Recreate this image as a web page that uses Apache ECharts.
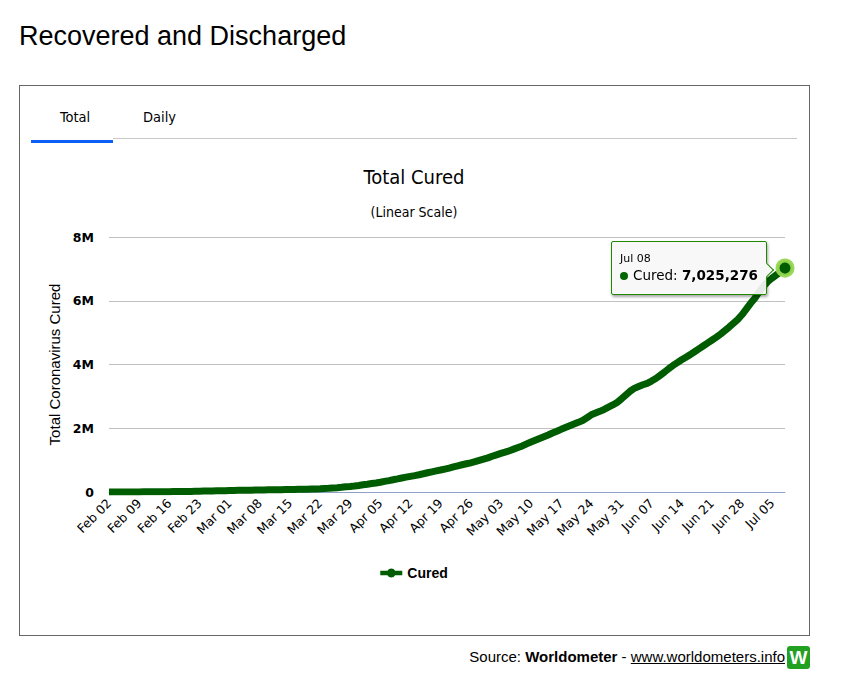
<!DOCTYPE html>
<html>
<head>
<meta charset="utf-8">
<script src="https://cdn.jsdelivr.net/npm/echarts@6/dist/echarts.min.js"></script>
<style>
  html, body { margin: 0; padding: 0; background: #fff; width: 843px; height: 686px; overflow: hidden; font-family: "Liberation Sans", Arial, sans-serif; }
  #pageTitle { position: absolute; left: 19px; top: 21px; font-size: 27px; color: #000; white-space: nowrap; }
  #box { position: absolute; left: 19px; top: 85px; width: 789px; height: 549px; border: 1px solid #666; }
  #chart { position: absolute; left: 20px; top: 86px; width: 788px; height: 548px; }
  .tab { position: absolute; top: 109px; font-size: 14.5px; color: #000; z-index: 2; font-family: "DejaVu Sans Condensed", "Liberation Sans", sans-serif; }
  #tabLine { position: absolute; left: 113px; top: 138px; width: 684px; height: 1px; background: #c8c8c8; z-index: 2; }
  #tabActive { position: absolute; left: 31px; top: 140px; width: 82px; height: 3px; background: #0d5ef5; z-index: 2; }
  #footer { position: absolute; right: 58px; top: 648px; font-size: 15px; color: #000; white-space: nowrap; }
  #footer a { color: #000; text-decoration: underline; }
  #wlogo { position: absolute; left: 787px; top: 646px; width: 23px; height: 23px; background: #22a022; border-radius: 3px; color: #fff; font-weight: bold; font-size: 19px; text-align: center; line-height: 23px; font-family: "Liberation Sans", Arial, sans-serif; }
</style>
</head>
<body>
<div id="pageTitle">Recovered and Discharged</div>
<div id="box"></div>
<div class="tab" style="left:60px;">Total</div>
<div class="tab" style="left:143px;">Daily</div>
<div id="tabLine"></div>
<div id="tabActive"></div>
<div id="chart"></div>
<div id="footer">Source: <b>Worldometer</b> - <a>www.worldometers.info</a></div>
<div id="wlogo">W</div>
<script>
// Categories: daily dates from Feb 02 to Jul 08
const months = ["Feb", "Mar", "Apr", "May", "Jun", "Jul"];
const monthStartDay = [2, 1, 1, 1, 1, 1];
const monthEndDay = [29, 31, 30, 31, 30, 8];

const dates = [];
for (let m = 0; m < months.length; m++) {
  for (let d = monthStartDay[m]; d <= monthEndDay[m]; d++) {
    dates.push(months[m] + " " + (d < 10 ? "0" + d : "" + d));
  }
}

// Total cured
const cured = [
  510, 633, 892, 1153, 1542, 2011, 2616,
  3245, 3946, 4683, 5150, 6295, 8058, 9395,
  10865, 12583, 14376, 16155, 18264, 18890, 22886,
  23394, 27905, 30384, 33277, 36711, 39782, 42716,
  45602, 48228, 51170, 53796, 55865, 58359, 60694,
  62494, 64404, 67003, 68324, 70251, 72624, 76034,
  78088, 80840, 83313, 84975, 87420, 91692, 95829,
  101000, 108000, 114500, 125000, 135500, 147000, 162000,
  174000, 188000, 205000, 226000, 245000, 266000, 284000,
  305000, 332000, 358000, 385000, 412000, 440000, 465000,
  490000, 515000, 542000, 572000, 603000, 633000, 662000,
  690000, 720000, 750000, 785000, 820000, 855000, 885000,
  915000, 950000, 990000, 1030000, 1070000, 1120000, 1165000,
  1210000, 1250000, 1295000, 1345000, 1395000, 1445000, 1510000,
  1570000, 1625000, 1680000, 1735000, 1790000, 1850000, 1905000,
  1965000, 2020000, 2075000, 2130000, 2185000, 2245000, 2330000,
  2420000, 2475000, 2530000, 2590000, 2660000, 2730000, 2810000,
  2920000, 3040000, 3160000, 3250000, 3310000, 3365000, 3410000,
  3480000, 3560000, 3660000, 3760000, 3870000, 3970000, 4060000,
  4150000, 4230000, 4310000, 4400000, 4490000, 4580000, 4670000,
  4760000, 4850000, 4950000, 5060000, 5170000, 5290000, 5410000,
  5560000, 5740000, 5920000, 6080000, 6280000, 6450000, 6600000,
  6710000, 6810000, 6910000, 7025276
];

const yTicks = [0, 2000000, 4000000, 6000000, 8000000];
const yTickLabels = ["0", "2M", "4M", "6M", "8M"];

const lineColor = "#005c00";
const lastIndex = cured.length - 1;

const seriesData = cured.map(function (v, i) {
  if (i === lastIndex) {
    return {
      value: v,
      symbol: "circle",
      symbolSize: 15,
      itemStyle: { color: "#005c00", borderColor: "rgba(150,215,80,0.95)", borderWidth: 4 }
    };
  }
  return { value: v };
});

const chart = echarts.init(document.getElementById("chart"), null, { renderer: "svg" });

const option = {
  animation: false,
  backgroundColor: "transparent",
  title: [
    {
      text: "Total Cured",
      left: "center",
      top: 76,
      textStyle: { fontSize: 20, fontWeight: "normal", color: "#000", fontFamily: "DejaVu Sans Condensed, Liberation Sans, sans-serif" }
    },
    {
      text: "(Linear Scale)",
      left: "center",
      top: 114,
      textStyle: { fontSize: 14, fontWeight: "normal", color: "#000", fontFamily: "DejaVu Sans Condensed, Liberation Sans, sans-serif" }
    }
  ],
  legend: {
    top: 475,
    left: "center",
    itemWidth: 22,
    itemHeight: 9,
    itemGap: 4,
    selectedMode: false,
    data: [{ name: "Cured", icon: "path://M0,3H6.5A4,4 0 0,1 13.5,3H20V7H13.5A4,4 0 0,1 6.5,7H0Z" }],
    itemStyle: { color: lineColor },
    textStyle: { fontSize: 14, fontWeight: "bold", color: "#000", fontFamily: "Liberation Sans, Arial, sans-serif" }
  },
  grid: { left: 89, right: 23, top: 151, bottom: 142, containLabel: false },
  tooltip: {
    trigger: "item",
    triggerOn: "none",
    alwaysShowContent: true,
    position: [591, 155],
    backgroundColor: "rgba(247,247,247,0.92)",
    borderColor: "#1f8a00",
    borderWidth: 1.5,
    padding: [9, 8, 10, 8],
    extraCssText: "border-radius:2px; box-shadow: 1px 2px 3px rgba(0,0,0,0.35); overflow: visible;",
    formatter: function (p) {
      const val = p.value.toLocaleString("en-US");
      return '<div style="position:relative;font-family:DejaVu Sans, sans-serif;color:#000;">' +
        '<div style="font-size:11px;line-height:15px;">' + dates[p.dataIndex] + '</div>' +
        '<div style="font-size:13.5px;line-height:18px;white-space:nowrap;"><span style="display:inline-block;width:8px;height:8px;border-radius:4px;background:#006400;margin-right:5px;vertical-align:middle;"></span>' +
        'Cured: <b>' + val + '</b></div>' +
        '<div style="position:absolute;right:-14px;top:14px;width:9px;height:9px;background:#f7f7f7;border-top:1.5px solid #1f8a00;border-right:1.5px solid #1f8a00;transform:rotate(45deg);"></div>' +
        '</div>';
    }
  },
  xAxis: {
    type: "category",
    data: dates,
    boundaryGap: false,
    axisLine: { show: true, lineStyle: { color: "#8fa0c8", width: 1 } },
    axisTick: { show: false },
    splitLine: { show: false },
    axisLabel: {
      interval: 6,
      rotate: 45,
      margin: 9,
      fontSize: 12.5,
      color: "#000",
      fontFamily: "DejaVu Sans, sans-serif"
    }
  },
  yAxis: {
    type: "value",
    min: yTicks[0],
    max: yTicks[yTicks.length - 1],
    interval: yTicks[1] - yTicks[0],
    name: "Total Coronavirus Cured",
    nameLocation: "middle",
    nameGap: 47,
    nameTextStyle: { fontSize: 15, color: "#000", fontFamily: "Liberation Sans, Arial, sans-serif" },
    axisLine: { show: false },
    axisTick: { show: false },
    splitLine: { show: true, lineStyle: { color: "#c0c0c0", width: 1 } },
    axisLabel: {
      margin: 15,
      fontSize: 12.5,
      fontWeight: "bold",
      color: "#000",
      fontFamily: "DejaVu Sans, sans-serif",
      formatter: function (v) {
        const idx = yTicks.indexOf(v);
        return idx >= 0 ? yTickLabels[idx] : "";
      }
    }
  },
  series: [
    {
      name: "Cured",
      type: "line",
      data: seriesData,
      symbol: "none",
      showAllSymbol: true,
      smooth: false,
      lineStyle: { color: lineColor, width: 7 },
      itemStyle: { color: lineColor },
      emphasis: { disabled: true },
      z: 3
    }
  ]
};

chart.setOption(option);
chart.dispatchAction({ type: "showTip", seriesIndex: 0, dataIndex: lastIndex });
setTimeout(function () {
  chart.dispatchAction({ type: "showTip", seriesIndex: 0, dataIndex: lastIndex });
}, 50);
</script>
</body>
</html>
